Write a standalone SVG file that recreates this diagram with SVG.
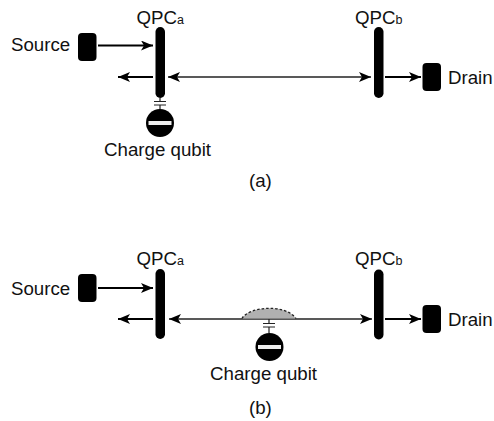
<svg xmlns="http://www.w3.org/2000/svg" width="494" height="421" viewBox="0 0 494 421">
<style>
text{font-family:"Liberation Sans",Arial,sans-serif;font-size:18.7px;fill:#111}
.s{font-size:12.500px}
.e{fill:#000}
.l{stroke:#000;stroke-width:1.8;fill:none}
.d{stroke:#222;stroke-width:1.5;fill:none}
.c{stroke:#222;stroke-width:1.2;fill:none}
</style>
<defs>
<marker id="a" markerUnits="userSpaceOnUse" markerWidth="13" markerHeight="10" refX="12" refY="5" orient="auto-start-reverse"><path d="M0 0L12 5L0 10L3 5Z" fill="#000"/></marker>
<g id="q"><circle cx="0" cy="0" r="14" fill="#000"/><rect x="-11.500" y="-2" width="23" height="4" fill="#eee"/></g>
</defs>
<g id="connectors">
<path class="l" d="M98 45.500H153" marker-end="url(#a)"/>
<path class="l" d="M153 77H118" marker-end="url(#a)"/>
<path class="d" d="M168 77H371" marker-start="url(#a)" marker-end="url(#a)"/>
<path class="l" d="M385 77H421" marker-end="url(#a)"/>
<path class="c" d="M160 98V101M154 101.500H166M154 105H166M160 105V109"/>
<path class="l" d="M98 288H153" marker-end="url(#a)"/>
<path class="l" d="M153 319H118" marker-end="url(#a)"/>
<path class="d" d="M169 319H372" marker-start="url(#a)" marker-end="url(#a)"/>
<path class="l" d="M385 319H421" marker-end="url(#a)"/>
<path class="c" d="M269 319V323M263 323.500H275M263 327H275M269 327V333"/>
</g>
<g id="bump"><path d="M242 318.500C248 307 285 303 296 318.500Z" fill="#b0b0b0"/><path d="M242 318.500C248 307 285 303 296 318.500" fill="none" stroke="#222" stroke-width="1.3" stroke-dasharray="2.500 2"/></g>
<g id="source-a"><rect class="e" x="78" y="33" width="18.500" height="28" rx="4"/><text x="11" y="51">Source</text></g>
<g id="qpca-a"><rect class="e" x="155.500" y="27" width="9.500" height="71" rx="4.700"/><text x="136.500" y="24">QPC<tspan class="s">a</tspan></text></g>
<g id="qpcb-a"><rect class="e" x="374" y="27" width="9.500" height="71" rx="4.700"/><text x="355" y="24">QPC<tspan class="s">b</tspan></text></g>
<g id="drain-a"><rect class="e" x="422.500" y="63" width="18.500" height="28" rx="4"/><text x="448" y="84">Drain</text></g>
<g id="qubit-a"><use href="#q" x="160" y="123"/><text x="104" y="156">Charge qubit</text></g>
<text x="249" y="187">(a)</text>
<g id="source-b"><rect class="e" x="78" y="274" width="18.500" height="28" rx="4"/><text x="11" y="295">Source</text></g>
<g id="qpca-b"><rect class="e" x="155.500" y="269" width="9.500" height="70" rx="4.700"/><text x="136.500" y="265">QPC<tspan class="s">a</tspan></text></g>
<g id="qpcb-b"><rect class="e" x="374" y="269.500" width="9.500" height="70" rx="4.700"/><text x="355" y="265">QPC<tspan class="s">b</tspan></text></g>
<g id="drain-b"><rect class="e" x="422.500" y="305" width="18.500" height="28" rx="4"/><text x="448" y="326">Drain</text></g>
<g id="qubit-b"><use href="#q" x="269.500" y="347"/><text x="210" y="380">Charge qubit</text></g>
<text x="249" y="414">(b)</text>
</svg>
